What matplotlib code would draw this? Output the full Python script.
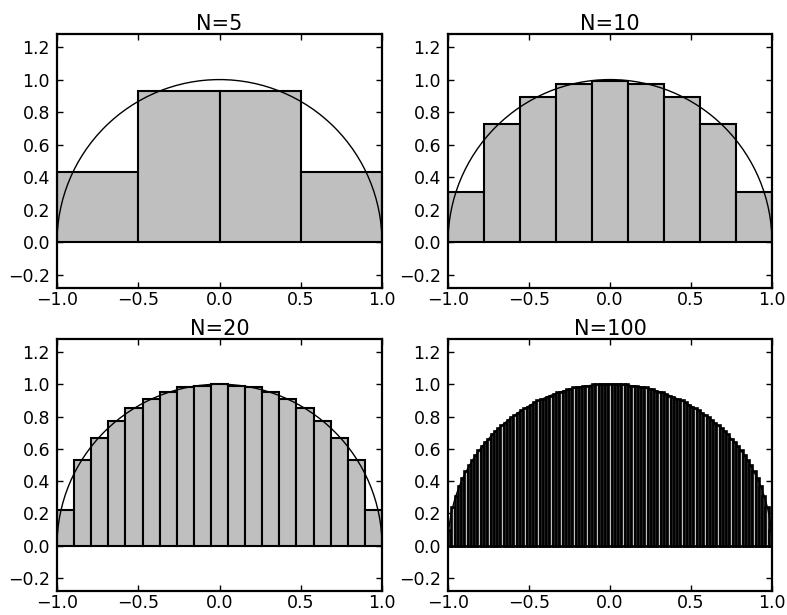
import numpy as np
import matplotlib
matplotlib.use("Agg")
import matplotlib.pyplot as plt
from matplotlib.patches import Arc

# Bar heights (one list per panel)
heights_5 = [0.43, 0.93, 0.93, 0.43]
heights_10 = [0.31, 0.73, 0.89, 0.97, 0.99, 0.97, 0.89, 0.73, 0.31]
heights_20 = [0.22, 0.53, 0.67, 0.77, 0.85, 0.91, 0.95, 0.98, 0.99, 1.00,
              0.99, 0.98, 0.95, 0.91, 0.85, 0.77, 0.67, 0.53, 0.22]
heights_100 = [0.10, 0.24, 0.31, 0.37, 0.42, 0.46, 0.50, 0.53, 0.56, 0.59,
               0.62, 0.64, 0.66, 0.69, 0.71, 0.73, 0.75, 0.76, 0.78, 0.80,
               0.81, 0.82, 0.84, 0.85, 0.86, 0.87, 0.89, 0.90, 0.91, 0.91,
               0.92, 0.93, 0.94, 0.95, 0.95, 0.96, 0.97, 0.97, 0.98, 0.98,
               0.98, 0.99, 0.99, 0.99, 1.00, 1.00, 1.00, 1.00, 1.00, 1.00,
               1.00, 1.00, 1.00, 1.00, 1.00, 0.99, 0.99, 0.99, 0.98, 0.98,
               0.98, 0.97, 0.97, 0.96, 0.95, 0.95, 0.94, 0.93, 0.92, 0.91,
               0.91, 0.90, 0.89, 0.87, 0.86, 0.85, 0.84, 0.82, 0.81, 0.80,
               0.78, 0.76, 0.75, 0.73, 0.71, 0.69, 0.66, 0.64, 0.62, 0.59,
               0.56, 0.53, 0.50, 0.46, 0.42, 0.37, 0.31, 0.24, 0.10]
panel_n = [5, 10, 20, 100]
titles = ["N=5", "N=10", "N=20", "N=100"]
xticks = [-1.0, -0.5, 0.0, 0.5, 1.0]
yticks = [-0.2, 0.0, 0.2, 0.4, 0.6, 0.8, 1.0, 1.2]

all_heights = [heights_5, heights_10, heights_20, heights_100]

plt.rcParams['font.family'] = ['DejaVu Sans']
fig = plt.figure(figsize=(7.87, 6.15), dpi=100)

# axes rectangles in pixels (left, top, right, bottom)
W, H = 787, 615
rects = [
    (57, 34, 382, 288),
    (448, 34, 772, 288),
    (57, 339, 382, 591),
    (448, 339, 772, 591),
]

for (x0, y0, x1, y1), n, hts, title in zip(rects, panel_n, all_heights, titles):
    ax = fig.add_axes([x0 / W, 1 - y1 / H, (x1 - x0) / W, (y1 - y0) / H])
    edges = np.linspace(-1, 1, n)
    width = edges[1] - edges[0]
    lw = 1.5 if n < 100 else 1.9
    ax.bar(edges[:-1], hts, width=width, align='edge', color='0.75',
           edgecolor='black', linewidth=lw, zorder=2)
    arc = Arc((0, 0), 2, 2, theta1=0, theta2=180, color='black',
              linewidth=1.0, zorder=3)
    ax.add_patch(arc)
    ax.set_xlim(-1, 1)
    ax.set_ylim(-0.28, 1.28)
    ax.set_xticks(xticks)
    ax.set_yticks(yticks)
    ax.set_xticklabels(["\u22121.0", "\u22120.5", "0.0", "0.5", "1.0"])
    ax.set_yticklabels(["\u22120.2", "0.0", "0.2", "0.4", "0.6", "0.8", "1.0", "1.2"])
    ax.tick_params(direction='in', top=True, right=True, length=4,
                   width=1, labelsize=12.5)
    ax.tick_params(axis='x', pad=2.5)
    ax.tick_params(axis='y', pad=5)
    for s in ax.spines.values():
        s.set_linewidth(1.6)
    ax.set_title(title, fontsize=15, pad=3)

fig.savefig("out.png", dpi=100, facecolor='white')
